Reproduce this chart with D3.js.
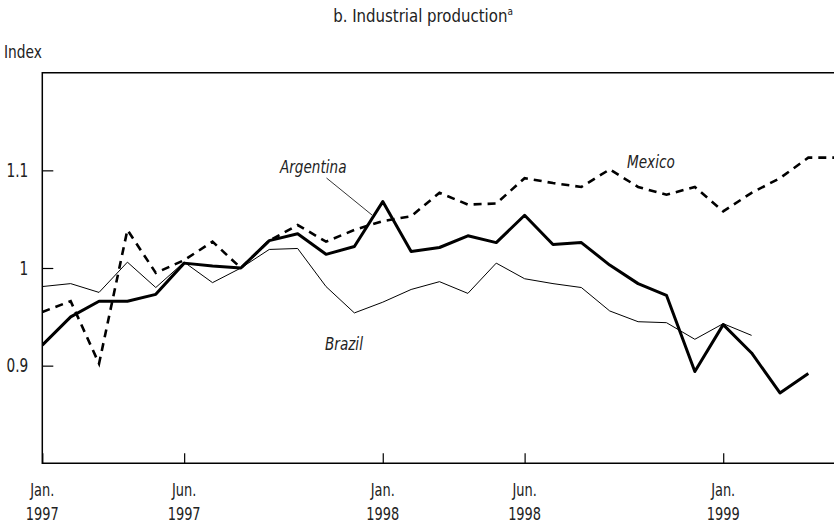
<!DOCTYPE html>
<html>
<head>
<meta charset="utf-8">
<script src="https://cdn.jsdelivr.net/npm/d3@7"></script>
<style>
  body { margin: 0; background: #fff; }
  svg text { font-family: "DejaVu Sans Condensed", "DejaVu Sans", sans-serif; font-stretch: condensed; fill: #222; }
</style>
</head>
<body>
<svg id="chart" width="834" height="524"></svg>
<script>
// monthly index, Jan 1997 - May 1999
const months = ["1997-01","1997-02","1997-03","1997-04","1997-05","1997-06","1997-07","1997-08","1997-09","1997-10","1997-11","1997-12",
                "1998-01","1998-02","1998-03","1998-04","1998-05","1998-06","1998-07","1998-08","1998-09","1998-10","1998-11","1998-12",
                "1999-01","1999-02","1999-03","1999-04","1999-05"];

const argentina = [0.921, 0.950, 0.966, 0.966, 0.973, 1.005, 1.002, 1.000, 1.028, 1.035, 1.014, 1.022,
                   1.068, 1.017, 1.021, 1.033, 1.026, 1.054, 1.024, 1.026, 1.003, 0.984, 0.972, 0.894,
                   0.942, 0.913, 0.872, 0.892];
const brazil = [0.981, 0.984, 0.975, 1.006, 0.980, 1.006, 0.985, 1.000, 1.019, 1.020, 0.981, 0.954,
                0.965, 0.978, 0.986, 0.974, 1.005, 0.989, 0.984, 0.980, 0.956, 0.945, 0.944, 0.927,
                0.943, 0.931];
const mexico = [0.955, 0.966, 0.902, 1.039, 0.995, 1.008, 1.027, 1.000, 1.028, 1.044, 1.027, 1.039,
                1.048, 1.053, 1.077, 1.065, 1.066, 1.092, 1.087, 1.083, 1.101, 1.083, 1.075, 1.083,
                1.058, 1.077, 1.092, 1.113, 1.113];

const xTickMonths = ["1997-01","1997-06","1998-01","1998-06","1999-01"];
const xTickLabels = [["Jan.","1997"],["Jun.","1997"],["Jan.","1998"],["Jun.","1998"],["Jan.","1999"]];
const yTicks = [0.9, 1, 1.1];

const svg = d3.select("#chart");
const plotLeft = 42.3, plotRight = 836.7, plotTop = 72.7, plotBottom = 463.3;

const x = d3.scalePoint().domain(months).range([plotLeft, plotRight]);
const y = d3.scaleLinear().domain([0.8, 1.2]).range([plotBottom, plotTop]);

// narrow the text horizontally around its anchor x
function squeeze(sel, sx) {
  sel.each(function() {
    const t = d3.select(this);
    const ax = +t.attr("x") || 0;
    t.attr("transform", `translate(${ax},0) scale(${sx},1) translate(${-ax},0)`);
  });
}

// title
const title = svg.append("text")
    .attr("x", 423).attr("y", 22)
    .attr("text-anchor", "middle")
    .style("font-size", "18.5px");
title.append("tspan").text("b. Industrial production");
title.append("tspan").attr("dy", -7).style("font-size", "11px").text("a");
squeeze(title, 0.9);

squeeze(svg.append("text")
    .attr("x", 4).attr("y", 58)
    .style("font-size", "18px")
    .text("Index"), 0.85);

// frame (no right side)
svg.append("path")
    .attr("d", `M834,${plotTop}H${plotLeft}V${plotBottom}H834`)
    .attr("fill", "none")
    .attr("stroke", "#000")
    .attr("stroke-width", 1.5);

// y axis
const yAxis = svg.append("g")
    .attr("transform", `translate(${plotLeft},0)`)
    .call(d3.axisLeft(y).tickValues(yTicks).tickSize(-11).tickPadding(14).tickFormat(d3.format("")));
yAxis.select(".domain").remove();
yAxis.selectAll(".tick line").attr("stroke", "#000").attr("stroke-width", 1.2);
yAxis.selectAll(".tick text").style("font-size", "19px").attr("fill", "#222");
yAxis.selectAll(".tick text").call(squeeze, 0.8);

// x axis
const xAxis = svg.append("g")
    .attr("transform", `translate(0,${plotBottom})`)
    .call(d3.axisBottom(x).tickValues(xTickMonths).tickSize(-10).tickFormat(""));
xAxis.select(".domain").remove();
xAxis.selectAll(".tick line").attr("stroke", "#000").attr("stroke-width", 1.2);

xTickMonths.forEach((m, i) => {
  const t = svg.append("text")
      .attr("x", x(m))
      .attr("text-anchor", "middle")
      .style("font-size", "18px");
  t.append("tspan").attr("x", x(m)).attr("y", 496).text(xTickLabels[i][0]);
  t.append("tspan").attr("x", x(m)).attr("y", 520).text(xTickLabels[i][1]);
  squeeze(t, 0.8);
});

// lines
svg.append("clipPath").attr("id", "plot")
  .append("rect").attr("x", plotLeft).attr("y", plotTop).attr("width", 834 - plotLeft).attr("height", plotBottom - plotTop);

const line = d3.line()
    .x((d, i) => x(months[i]))
    .y(d => y(d));

const g = svg.append("g").attr("clip-path", "url(#plot)");

g.append("path")
    .datum(brazil)
    .attr("fill", "none")
    .attr("stroke", "#000")
    .attr("stroke-width", 1)
    .attr("d", line);

g.append("path")
    .datum(mexico)
    .attr("fill", "none")
    .attr("stroke", "#000")
    .attr("stroke-width", 2.6)
    .attr("stroke-dasharray", "8,6")
    .attr("d", line);

g.append("path")
    .datum(argentina)
    .attr("fill", "none")
    .attr("stroke", "#000")
    .attr("stroke-width", 3)
    .attr("stroke-linejoin", "round")
    .attr("d", line);

// series labels
const lab = (tx, ty, s) => squeeze(svg.append("text")
    .attr("x", tx).attr("y", ty)
    .style("font-size", "18px")
    .style("font-style", "italic")
    .text(s), 0.84);
lab(280, 173, "Argentina");
lab(627, 168, "Mexico");
lab(325, 350, "Brazil");

// leader line for Argentina
svg.append("line")
    .attr("x1", 326.5).attr("y1", 178)
    .attr("x2", 372).attr("y2", 215)
    .attr("stroke", "#000")
    .attr("stroke-width", 0.8);
</script>
</body>
</html>
